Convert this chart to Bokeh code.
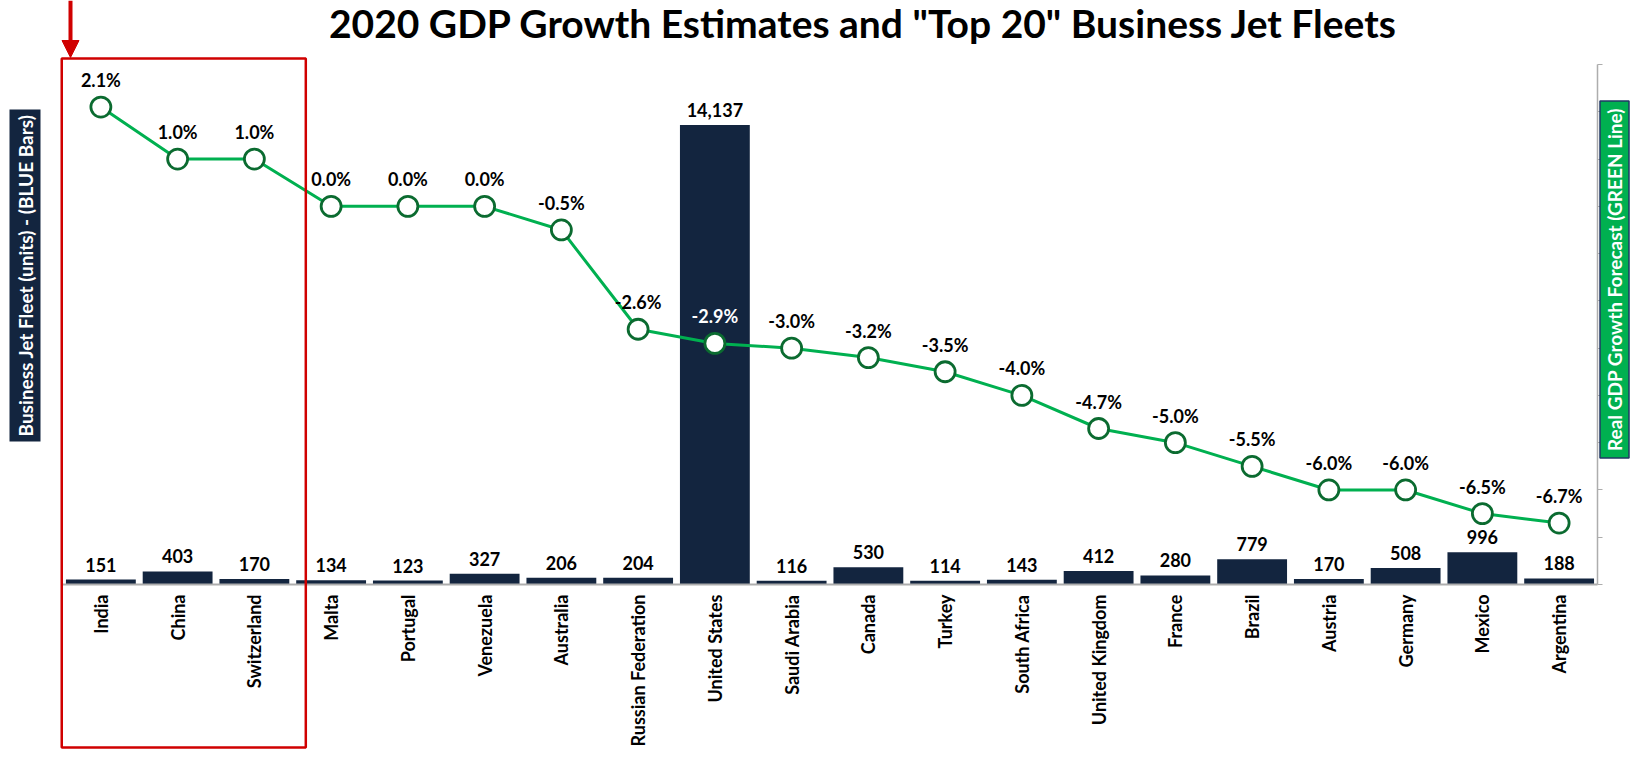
import math
from bokeh.plotting import figure
from bokeh.models import (Range1d, LinearAxis, FixedTicker, Label,
                          BoxAnnotation, Arrow, NormalHead)
from bokeh.core.properties import value
from bokeh.embed import file_html
from bokeh.resources import INLINE

# ---------------- data ----------------
countries = ["India", "China", "Switzerland", "Malta", "Portugal", "Venezuela",
             "Australia", "Russian Federation", "United States", "Saudi Arabia",
             "Canada", "Turkey", "South Africa", "United Kingdom", "France",
             "Brazil", "Austria", "Germany", "Mexico", "Argentina"]
fleet = [151, 403, 170, 134, 123, 327, 206, 204, 14137, 116,
         530, 114, 143, 412, 280, 779, 170, 508, 996, 188]
gdp = [2.1, 1.0, 1.0, 0.0, 0.0, 0.0, -0.5, -2.6, -2.9, -3.0,
       -3.2, -3.5, -4.0, -4.7, -5.0, -5.5, -6.0, -6.0, -6.5, -6.7]
gdp_ticks = [-8, -7, -6, -5, -4, -3, -2, -1, 0, 1, 2, 3]
fleet_max = 16000
highlight = ["India", "China", "Switzerland"]

title_text = '2020 GDP Growth Estimates and "Top 20" Business Jet Fleets'
left_title = "Business Jet Fleet (units) - (BLUE Bars)"
right_title = "Real GDP Growth Forecast (GREEN Line)"

# ---------------- layout (canvas pixels) ----------------
W, H = 1630, 750
PL, PR, PT, PB = 62, 1597, 64, 584     # plot area edges
NAVY = "#13253F"
GREEN = "#00B050"
DKGREEN = "#0B6B30"
RED = "#D00000"
AXGRAY = "#ADADAD"
FONT = "Lato"

n = len(countries)
cat_w = (PR - PL) / n
px_per_fleet = (PB - PT) / fleet_max
px_per_gdp = (PB - PT) / (gdp_ticks[-1] - gdp_ticks[0])


def fx(px):            # canvas x -> category coordinate
    return (px - PL) / cat_w


def fy(py):            # canvas y -> fleet units
    return (PB - py) / px_per_fleet


xpos = [i + 0.5 for i in range(n)]

p = figure(width=W, height=H,
           x_range=Range1d(fx(0), fx(W)),
           y_range=Range1d(fy(H), fy(0)),
           output_backend="svg", toolbar_location=None,
           x_axis_location=None, y_axis_location=None, title_location=None,
           min_border=0)
p.extra_y_ranges = {"gdp": Range1d(gdp_ticks[0] - (H - PB) / px_per_gdp,
                                   gdp_ticks[-1] + PT / px_per_gdp)}
p.outline_line_color = None
p.xgrid.visible = False
p.ygrid.visible = False
p.background_fill_color = "white"
p.border_fill_color = "white"

# category axis along the bar baseline
xa = LinearAxis(fixed_location=0, bounds=(0, n),
                ticker=FixedTicker(ticks=xpos),
                major_label_overrides={x: c for x, c in zip(xpos, countries)},
                major_label_orientation=math.pi / 2,
                major_tick_line_color=None, major_tick_in=0, major_tick_out=0,
                minor_tick_line_color=None,
                axis_line_color=AXGRAY, axis_line_width=2,
                major_label_text_font=FONT, major_label_text_font_style="bold",
                major_label_text_font_size="18px", major_label_text_color="black",
                major_label_standoff=10)
p.add_layout(xa, "below")

# right axis (GDP scale, no labels)
ra = LinearAxis(y_range_name="gdp", fixed_location=n,
                bounds=(gdp_ticks[0], gdp_ticks[-1]),
                ticker=FixedTicker(ticks=gdp_ticks),
                axis_line_color=AXGRAY, axis_line_width=1.5,
                major_tick_line_color=AXGRAY, major_tick_in=0, major_tick_out=5,
                minor_tick_line_color=None, major_label_text_font_size="0px",
                major_label_text_alpha=0)
p.add_layout(ra, "right")

# bars
p.vbar(x=xpos, top=fleet, bottom=0, width=0.91, fill_color=NAVY, line_color=None)
p.text(x=xpos, y=fleet, text=[f"{v:,}" for v in fleet],
       text_align="center", text_baseline="alphabetic", y_offset=-15,
       text_font=value(FONT), text_font_style="bold", text_font_size="18px",
       text_color="black")

# line
p.line(x=xpos, y=gdp, y_range_name="gdp", line_color=GREEN, line_width=3)
p.scatter(x=xpos, y=gdp, y_range_name="gdp", size=20, fill_color="white",
          line_color=DKGREEN, line_width=2.8)
tallest = max(fleet)
pct_colors = ["white" if f == tallest else "black" for f in fleet]
p.text(x=xpos, y=gdp, y_range_name="gdp", text=[f"{g:.1f}%" for g in gdp],
       text_align="center", text_baseline="alphabetic", y_offset=-27,
       text_font=value(FONT), text_font_style="bold", text_font_size="18px",
       text_color=pct_colors)

# title
p.add_layout(Label(x=fx(863), y=fy(22), text=title_text, text_align="center",
                   text_baseline="alphabetic", text_font=FONT,
                   text_font_style="bold", text_font_size="39px",
                   text_color="black"))

# left axis title box (with shadow)
box_pad = dict(left=5, right=5, top=4, bottom=4)
p.add_layout(Label(x=fx(24.5), y=fy(275), text=left_title, angle=math.pi / 2,
                   text_align="center", text_baseline="middle", text_font=FONT,
                   text_font_style="bold", text_font_size="19px", text_alpha=0,
                   background_fill_color="#8C8C8C", background_fill_alpha=0.55,
                   x_offset=3, y_offset=-3, padding=box_pad))
p.add_layout(Label(x=fx(24.5), y=fy(275), text=left_title, angle=math.pi / 2,
                   text_align="center", text_baseline="middle", text_font=FONT,
                   text_font_style="bold", text_font_size="19px", text_color="white",
                   background_fill_color=NAVY, padding=box_pad))

# right axis title box
p.add_layout(Label(x=fx(1614), y=fy(279), text=right_title, angle=math.pi / 2,
                   text_align="center", text_baseline="middle", text_font=FONT,
                   text_font_style="bold", text_font_size="19px", text_color="white",
                   background_fill_color=GREEN, border_line_color="#203864",
                   border_line_width=1.5,
                   padding=dict(left=7, right=7, top=3, bottom=3)))

# red highlight box around the first three countries, and arrow
p.add_layout(BoxAnnotation(left=-0.01, right=len(highlight) + 0.17,
                           top=fy(58), bottom=fy(747),
                           fill_color=None, fill_alpha=0, line_color=RED,
                           line_alpha=1.0, line_width=2.5))
p.add_layout(Arrow(end=NormalHead(size=17, fill_color=RED, line_color=RED),
                   x_start=fx(70), y_start=fy(0), x_end=fx(70), y_end=fy(57),
                   line_color=RED, line_width=4))

open("out.html", "w").write(file_html(p, INLINE))
